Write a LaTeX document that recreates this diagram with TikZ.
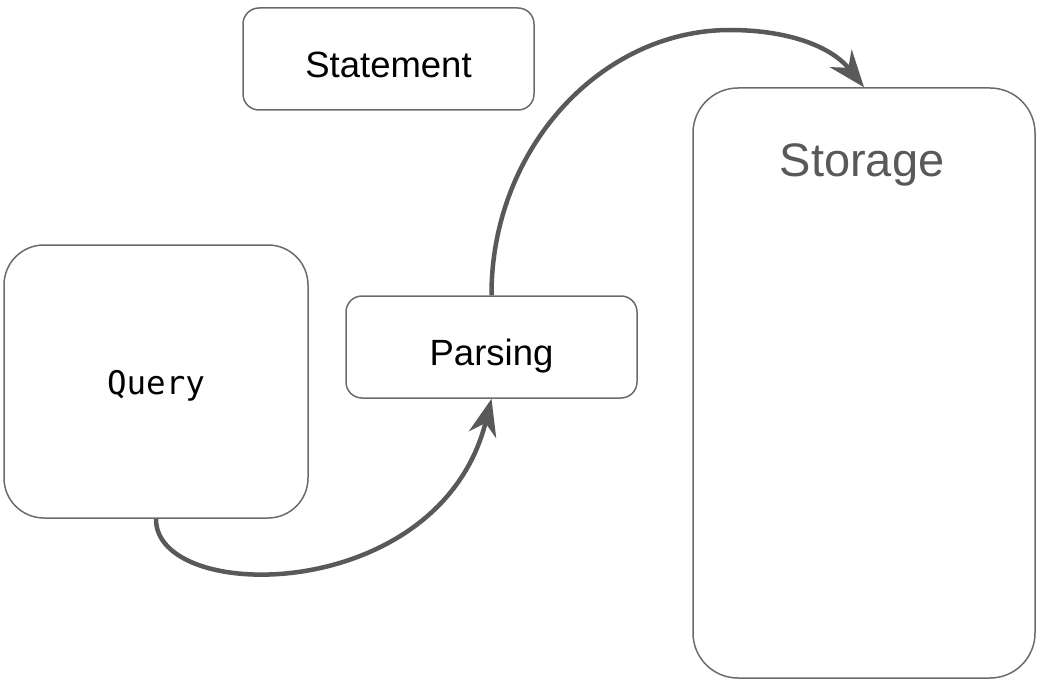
\documentclass[tikz,border=0pt]{standalone}
\usepackage{fontspec}
\setmainfont{Liberation Sans}
\setmonofont{DejaVu Sans Mono}
\usepackage{tikz}
\usetikzlibrary{arrows.meta}
\usetikzlibrary{positioning}

\definecolor{flowgray}{HTML}{595959}
\definecolor{edgegray}{HTML}{6B6B6B}

\begin{document}
\begin{tikzpicture}
    [
    x=1pt,y=-1pt,
    box/.style={rectangle,draw=edgegray,line width=1.5pt,rounded corners=#1,inner sep=0pt},
    box/.default=16pt,
    label text/.style={font=\fontsize{36.5}{44}\selectfont,text height=36.5pt,text depth=0pt},
    flow/.style={draw=flowgray,line width=4.5pt,
      -{Stealth[length=37pt,width=28pt,inset=12pt]}},
    ]
    \useasboundingbox (0,0) rectangle (1038,682);

    \node (statement) at (388.5,59) [box,minimum width=291pt,minimum height=102pt,label text] {Statement};
    \node (parsing) at (491.5,347) [box,minimum width=291pt,minimum height=102pt,label text] {Parsing};
    \node (query) at (156,381.5) [box=40pt,minimum width=304pt,minimum height=273pt,
      font=\ttfamily\fontsize{32.5}{40}\selectfont,text height=26pt,text depth=0pt] {Query};
    \node (storage) at (864,383) [box=45pt,minimum width=342pt,minimum height=590pt] {};
    \node (storagetitle) at (862,165) [text=flowgray,
      font=\fontsize{47}{56}\selectfont] {Storage};

    \coordinate (top) at (730,30);
    \draw [flow] (query.south) .. controls (155,605) and (440,605) .. (parsing.south);
    \draw [flow] (parsing.north) .. controls (491,150) and (600,30) .. (top)
      .. controls (785,30) and (830,45) .. (storage.north);
  \end{tikzpicture}
\end{document}
